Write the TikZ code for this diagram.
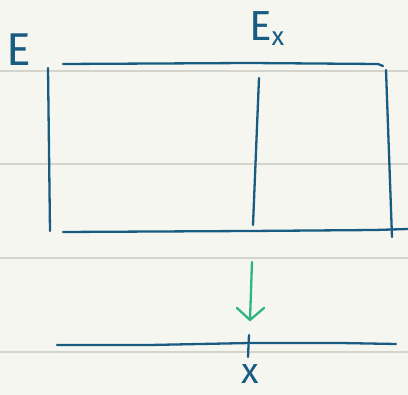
\documentclass[tikz,border=0pt]{standalone}
\usepackage{fontspec}
\newfontfamily\hand{Fira Sans}
\definecolor{bgc}{RGB}{246,246,241}
\definecolor{rulec}{RGB}{212,212,205}
\definecolor{inkc}{RGB}{24,92,130}
\definecolor{greenc}{RGB}{46,182,128}
\begin{document}
\begin{tikzpicture}[x=1pt,y=-1pt,
  ink/.style={draw=inkc, line width=2.3pt, line cap=round, line join=round},
  rule/.style={draw=rulec, line width=2pt},
  greenink/.style={draw=greenc, line width=2.3pt, line cap=round, line join=round},
  lbl/.style={inner sep=0pt, text=inkc, font=\hand}]
\fill[bgc] (0,0) rectangle (408,395);
\useasboundingbox (0,0) rectangle (408,395);
% notebook rules
\foreach \y in {71,164.5,258.5,352}
  \draw[rule] (0,\y) -- (408,\y);
% box
\draw[ink] (63,64) -- (250,63) -- (378,64) -- (383,66);
\draw[ink] (48,68) -- (50,231);
\draw[ink] (63,232) -- (250,231) -- (375,230) -- (408,229);
\draw[ink] (259,78) -- (253,225);
\draw[ink] (386,70) -- (392,237);
% labels
\node[lbl, anchor=base west, font=\hand\fontsize{46}{46}\selectfont] (E) at (6,66) {E};
\node[lbl, anchor=base west, font=\hand\fontsize{42}{42}\selectfont] (Ex) at (249,41) {E\raisebox{-5pt}{\fontsize{26}{26}\selectfont x}};
% arrow
\coordinate (a1) at (252,262);
\coordinate (a2) at (250,320);
\draw[greenink] (a1) -- (a2);
\draw[greenink] (237,308) -- (a2) -- (264,308);
% axis
\draw[ink] (57,345) -- (150,345) -- (250,343) -- (340,343) -- (396,344);
\draw[ink] (249,335) -- (248,357);
\node[lbl, anchor=base, font=\hand\fontsize{36}{36}\selectfont] (xl) at (250,384) {x};
\end{tikzpicture}
\end{document}
